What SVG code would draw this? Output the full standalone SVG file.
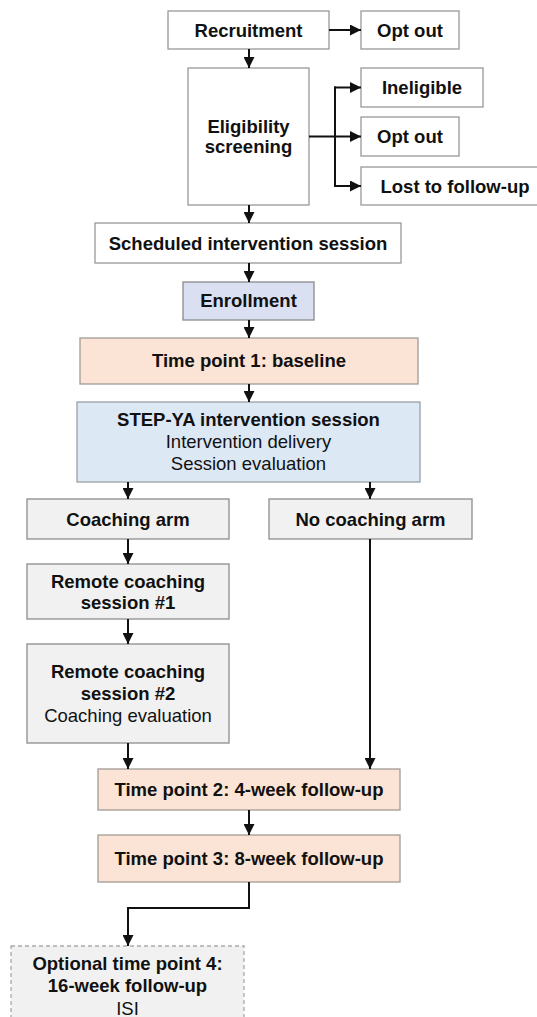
<svg xmlns="http://www.w3.org/2000/svg" width="537" height="1017" viewBox="0 0 537 1017">
  <style>
    text { font-family: "Liberation Sans", Arial, sans-serif; font-size: 18.5px; fill: #111; text-anchor: middle; }
    .b { font-weight: bold; }
    .box { stroke: #999; stroke-width: 1.3; }
    .white { fill: #ffffff; }
    .enroll { fill: #dae0f2; stroke: #8a8a8a; }
    .tp { fill: #fbe4d5; stroke: #a09a96; }
    .step { fill: #dde8f5; stroke: #9aa0a8; }
    .grey { fill: #f1f1f1; stroke: #8c8c8c; }
    .opt { fill: #f1f1f1; stroke: #aaa; stroke-dasharray: 4 3; }
    .conn path, .conn line { fill: none; stroke: #111; stroke-width: 2; }
  </style>
  <defs>
    <marker id="ah" viewBox="0 0 10 10" refX="10" refY="5" markerWidth="11" markerHeight="11" markerUnits="userSpaceOnUse" orient="auto">
      <path d="M0,0 L10,5 L0,10 z" fill="#111"/>
    </marker>
  </defs>

  <g id="recruitment"><rect class="box white" x="168" y="11" width="161" height="38"/><text class="b" x="248.5" y="36.5">Recruitment</text></g>
  <g id="optout1"><rect class="box white" x="361" y="11" width="98" height="38"/><text class="b" x="410" y="36.5">Opt out</text></g>
  <g id="eligibility"><rect class="box white" x="188" y="68" width="121" height="137"/><text class="b" x="248.5" y="132.5">Eligibility</text><text class="b" x="248.5" y="153">screening</text></g>
  <g id="ineligible"><rect class="box white" x="361" y="68" width="122" height="39"/><text class="b" x="422" y="93.5">Ineligible</text></g>
  <g id="optout2"><rect class="box white" x="361" y="117" width="98" height="39"/><text class="b" x="410" y="143">Opt out</text></g>
  <g id="lost"><rect class="box white" x="361" y="167" width="190" height="38"/><text class="b" x="455" y="193">Lost to follow-up</text></g>
  <g id="scheduled"><rect class="box white" x="95" y="223" width="306" height="40"/><text class="b" x="248" y="249.5">Scheduled intervention session</text></g>
  <g id="enrollment"><rect class="box enroll" x="183" y="282" width="131" height="38"/><text class="b" x="248.5" y="306.5">Enrollment</text></g>
  <g id="tp1"><rect class="box tp" x="80" y="338" width="338" height="46"/><text class="b" x="249" y="366.5">Time point 1: baseline</text></g>
  <g id="step"><rect class="box step" x="77" y="402" width="343" height="80"/><text class="b" x="248.5" y="426">STEP-YA intervention session</text><text x="248.5" y="447.5">Intervention delivery</text><text x="248.5" y="470">Session evaluation</text></g>
  <g id="coaching"><rect class="box grey" x="27" y="499" width="202" height="40"/><text class="b" x="128" y="526">Coaching arm</text></g>
  <g id="nocoaching"><rect class="box grey" x="269" y="499" width="203" height="40"/><text class="b" x="370.5" y="526">No coaching arm</text></g>
  <g id="remote1"><rect class="box grey" x="27" y="564" width="202" height="55"/><text class="b" x="128" y="587.5">Remote coaching</text><text class="b" x="128" y="608.5">session #1</text></g>
  <g id="remote2"><rect class="box grey" x="27" y="644" width="202" height="99"/><text class="b" x="128" y="678">Remote coaching</text><text class="b" x="128" y="699.5">session #2</text><text x="128" y="722">Coaching evaluation</text></g>
  <g id="tp2"><rect class="box tp" x="98" y="769" width="302" height="41"/><text class="b" x="249" y="796">Time point 2: 4-week follow-up</text></g>
  <g id="tp3"><rect class="box tp" x="98" y="835" width="302" height="47"/><text class="b" x="249" y="865">Time point 3: 8-week follow-up</text></g>
  <g id="tp4"><rect class="box opt" x="11" y="946" width="233" height="80"/><text class="b" x="127.5" y="970">Optional time point 4:</text><text class="b" x="127.5" y="992">16-week follow-up</text><text x="127.5" y="1015">ISI</text></g>

  <g class="conn" id="connectors">
    <line x1="329" y1="30" x2="361" y2="30" marker-end="url(#ah)"/>
    <line x1="249" y1="49" x2="249" y2="68" marker-end="url(#ah)"/>
    <line x1="309" y1="136.5" x2="361" y2="136.5" marker-end="url(#ah)"/>
    <line x1="335" y1="86.5" x2="335" y2="187"/>
    <line x1="334" y1="87.5" x2="361" y2="87.5" marker-end="url(#ah)"/>
    <line x1="334" y1="186" x2="361" y2="186" marker-end="url(#ah)"/>
    <line x1="249" y1="205" x2="249" y2="223" marker-end="url(#ah)"/>
    <line x1="249" y1="263" x2="249" y2="282" marker-end="url(#ah)"/>
    <line x1="249" y1="320" x2="249" y2="338" marker-end="url(#ah)"/>
    <line x1="249" y1="384" x2="249" y2="402" marker-end="url(#ah)"/>
    <line x1="128" y1="482" x2="128" y2="499" marker-end="url(#ah)"/>
    <line x1="370" y1="482" x2="370" y2="499" marker-end="url(#ah)"/>
    <line x1="128" y1="539" x2="128" y2="564" marker-end="url(#ah)"/>
    <line x1="128" y1="619" x2="128" y2="644" marker-end="url(#ah)"/>
    <line x1="128" y1="743" x2="128" y2="769" marker-end="url(#ah)"/>
    <line x1="370" y1="539" x2="370" y2="769" marker-end="url(#ah)"/>
    <line x1="249" y1="810" x2="249" y2="835" marker-end="url(#ah)"/>
    <path d="M249,882 V908 H128 V946" marker-end="url(#ah)"/>
  </g>
</svg>
